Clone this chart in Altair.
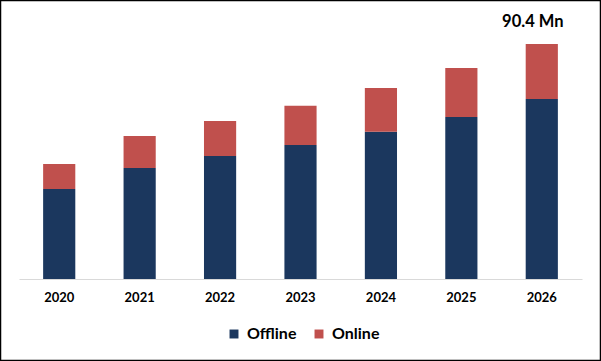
import altair as alt
import pandas as pd

years = ["2020", "2021", "2022", "2023", "2024", "2025", "2026"]
offline = [34.6, 42.7, 47.3, 51.5, 56.6, 62.3, 69.2]
online = [9.6, 12.3, 13.5, 15.1, 16.9, 18.9, 21.2]
segments = ["Offline", "Online"]
colors = ["#1b375e", "#c0504d"]
label_text = "90.4 Mn"

rows = []
for i, y in enumerate(years):
    rows.append({"year": y, "segment": "Offline", "value": offline[i], "order": 0})
    rows.append({"year": y, "segment": "Online", "value": online[i], "order": 1})
df = pd.DataFrame(rows)

totals = pd.DataFrame({
    "year": years,
    "total": [round(a + b, 1) for a, b in zip(offline, online)],
})
lab = totals[totals["year"] == "2026"].assign(label=label_text)

FONT = "Lato"

x_enc = alt.X(
    "year:N",
    sort=years,
    scale=alt.Scale(paddingInner=0.6, paddingOuter=0.3),
    axis=alt.Axis(
        title=None, labelAngle=0, ticks=False, domainColor="#d9d9d9",
        domainWidth=1, labelFont=FONT, labelFontSize=13, labelFontWeight="bold",
        labelColor="#000000", labelPadding=12,
    ),
)

bars = alt.Chart(df).mark_bar().encode(
    x=x_enc,
    y=alt.Y("value:Q", stack="zero", scale=alt.Scale(domain=[0, 100]), axis=None),
    color=alt.Color(
        "segment:N",
        scale=alt.Scale(domain=segments, range=colors),
        legend=alt.Legend(
            title=None, orient="none", legendX=207, legendY=307, direction="horizontal",
            symbolType="square", symbolSize=80, symbolStrokeWidth=0,
            labelFont=FONT, labelFontSize=16, labelFontWeight="bold", labelColor="#000000",
            columnPadding=14, labelOffset=5,
        ),
    ),
    order=alt.Order("order:Q"),
)

text = alt.Chart(lab).mark_text(
    font=FONT, fontSize=16.5, fontWeight="bold", color="#000000", dy=-14, dx=-9, baseline="bottom"
).encode(
    x=alt.X("year:N", sort=years),
    y=alt.Y("total:Q"),
    text="label:N",
)

frame = alt.Chart(pd.DataFrame({"a": [0]})).mark_rect(
    fill=None, stroke="#000000", strokeWidth=1.5, clip=False
).encode(
    x=alt.value(-18.5), x2=alt.value(581.5), y=alt.value(-18.5), y2=alt.value(341.5)
)

chart = alt.layer(bars, text, frame).properties(
    width=563, height=260,
    autosize=alt.AutoSizeParams(type="none"),
    padding={"left": 19, "top": 19, "right": 19, "bottom": 82},
    background="#ffffff",
).configure_view(stroke=None)

chart.save("out.html", embed_options={"renderer": "svg", "actions": False})
